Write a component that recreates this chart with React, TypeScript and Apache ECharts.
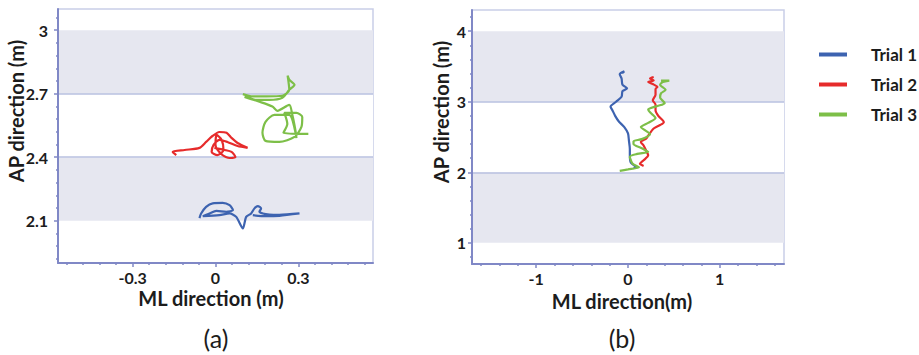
import React, { useEffect, useRef } from "react";
import * as echarts from "echarts";

// ---------- data ----------
const trialNames = ["Trial 1", "Trial 2", "Trial 3"];
const trialColors = ["#3d63b0", "#e62b2b", "#7dbf48"];

// Panel (a): close-up, ML (x) vs AP (y) in metres
const trial1A: [number, number][] = [
  [-0.058, 2.112], [-0.052, 2.134], [-0.034, 2.165], [-0.01, 2.182], [0.026, 2.184],
  [0.051, 2.173], [0.063, 2.15], [0.039, 2.142], [0.003, 2.146], [-0.022, 2.134],
  [-0.046, 2.121], [0.014, 2.126], [0.051, 2.134], [0.075, 2.118], [0.099, 2.063],
  [0.111, 2.118], [0.129, 2.134], [0.141, 2.158], [0.153, 2.169], [0.165, 2.158],
  [0.159, 2.142], [0.171, 2.134], [0.195, 2.129], [0.231, 2.128], [0.304, 2.134],
  [0.231, 2.123], [0.183, 2.121], [0.135, 2.126],
];
const trial2A: [number, number][] = [
  [-0.142, 2.41], [-0.155, 2.425], [-0.112, 2.434], [-0.058, 2.444], [-0.034, 2.472],
  [-0.011, 2.5], [0.014, 2.519], [0.04, 2.515], [0.058, 2.491], [0.08, 2.467],
  [0.116, 2.444], [0.08, 2.453], [0.043, 2.472], [0.014, 2.482], [-0.007, 2.458],
  [-0.014, 2.425], [0.007, 2.41], [0.029, 2.434], [0.022, 2.482], [0.004, 2.505],
  [0.0, 2.458], [0.025, 2.41], [0.051, 2.396], [0.072, 2.401], [0.058, 2.425],
  [0.033, 2.434], [-0.004, 2.444],
];
const trial3A: [number, number][] = [
  [0.099, 2.698], [0.134, 2.687], [0.184, 2.687], [0.242, 2.69], [0.267, 2.718],
  [0.261, 2.785], [0.267, 2.766], [0.286, 2.742], [0.267, 2.718], [0.242, 2.681],
  [0.195, 2.671], [0.148, 2.671], [0.105, 2.685], [0.159, 2.662], [0.206, 2.639],
  [0.224, 2.619], [0.267, 2.647], [0.278, 2.6], [0.289, 2.529], [0.293, 2.49],
  [0.267, 2.6], [0.213, 2.6], [0.181, 2.567], [0.17, 2.515], [0.181, 2.477],
  [0.231, 2.472], [0.286, 2.496], [0.311, 2.543], [0.314, 2.59], [0.293, 2.609],
  [0.249, 2.609], [0.26, 2.557], [0.246, 2.515], [0.304, 2.51], [0.336, 2.51],
];

// Panel (b): whole walk
const trial1B: [number, number][] = [
  [0.06, 2.06], [0.09, 2.07], [0.03, 2.14], [0.02, 2.25], [0.02, 2.33], [0.01, 2.45],
  [0.0, 2.55], [-0.04, 2.64], [-0.1, 2.72], [-0.14, 2.8], [-0.17, 2.88], [-0.19, 2.93],
  [-0.13, 3.0], [-0.07, 3.07], [-0.06, 3.15], [-0.01, 3.19], [-0.06, 3.24], [-0.07, 3.33],
  [-0.09, 3.39], [-0.04, 3.43], [-0.06, 3.41],
];
const trial2B: [number, number][] = [
  [0.17, 2.09], [0.13, 2.12], [0.17, 2.17], [0.22, 2.24], [0.2, 2.3], [0.17, 2.38],
  [0.14, 2.43], [0.2, 2.48], [0.22, 2.52], [0.28, 2.62], [0.35, 2.67], [0.39, 2.71],
  [0.33, 2.8], [0.3, 2.88], [0.3, 2.96], [0.27, 3.02], [0.3, 3.1], [0.3, 3.18],
  [0.32, 3.21], [0.27, 3.25], [0.22, 3.28], [0.28, 3.3], [0.24, 3.33], [0.28, 3.35],
];
const trial3B: [number, number][] = [
  [-0.09, 2.02], [0.0, 2.04], [0.12, 2.07], [0.05, 2.12], [0.02, 2.22], [0.1, 2.26],
  [0.22, 2.29], [0.15, 2.34], [0.06, 2.4], [0.06, 2.44], [0.15, 2.47], [0.24, 2.54],
  [0.18, 2.6], [0.14, 2.64], [0.22, 2.7], [0.3, 2.77], [0.24, 2.85], [0.22, 2.89],
  [0.32, 2.94], [0.4, 2.98], [0.35, 3.06], [0.36, 3.12], [0.41, 3.17], [0.35, 3.24],
  [0.38, 3.28], [0.45, 3.3], [0.36, 3.3],
];

// axis ranges and tick labels
const xRangeA = [-0.57, 0.57];
const yRangeA = [1.9, 3.1];
const xTicksA = [-0.3, 0, 0.3];
const yTicksA = [2.1, 2.4, 2.7, 3];
const xMinorA = [-0.54, -0.48, -0.42, -0.36, -0.24, -0.18, -0.12, -0.06, 0.06, 0.12, 0.18, 0.24, 0.36, 0.42, 0.48, 0.54];
const yMinorA = [1.92, 1.98, 2.04, 2.16, 2.22, 2.28, 2.34, 2.46, 2.52, 2.58, 2.64, 2.76, 2.82, 2.88, 2.94, 3.06];

const xRangeB = [-1.7, 1.7];
const yRangeB = [0.7, 4.3];
const xTicksB = [-1, 0, 1];
const yTicksB = [1, 2, 3, 4];
const xMinorB = [-1.6, -1.4, -1.2, -0.8, -0.6, -0.4, -0.2, 0.2, 0.4, 0.6, 0.8, 1.2, 1.4, 1.6];
const yMinorB = [0.8, 1.2, 1.4, 1.6, 1.8, 2.2, 2.4, 2.6, 2.8, 3.2, 3.4, 3.6, 3.8, 4.2];

const FONT = "Lato, 'Open Sans', sans-serif";
const AXIS_COLOR = "#8088c6";
const GRID_LINE = "#b9c0e0";
const BAND = "#e6e7f0";
const TEXT = "#1c1c1c";

export default function App() {
  const ref = useRef<HTMLDivElement>(null);

  useEffect(() => {
    if (!ref.current) return;
    const chart = echarts.init(ref.current, undefined, { renderer: "svg" });

    const labelStyle = { color: TEXT, fontFamily: FONT, fontWeight: "bold", fontSize: 16 };

    const mainX = (gi: number, range: number[], ticks: number[], split: number) => ({
      type: "value",
      gridIndex: gi,
      min: range[0],
      max: range[1],
      splitNumber: split,
      axisLine: { show: true, onZero: false, lineStyle: { color: AXIS_COLOR, width: 2 } },
      axisTick: { show: true, customValues: ticks, length: 4, lineStyle: { color: AXIS_COLOR, width: 1.5 } },
      axisLabel: { customValues: ticks, margin: 6, ...labelStyle },
      splitLine: { show: false },
    });
    const minorX = (gi: number, range: number[], vals: number[]) => ({
      type: "value",
      gridIndex: gi,
      min: range[0],
      max: range[1],
      position: "bottom",
      axisLine: { show: false, onZero: false },
      axisTick: { show: true, customValues: vals, length: 2, lineStyle: { color: AXIS_COLOR, width: 1.5 } },
      axisLabel: { show: false },
      splitLine: { show: false },
    });
    const mainY = (gi: number, range: number[], ticks: number[], split: number, margin: number) => ({
      type: "value",
      gridIndex: gi,
      min: range[0],
      max: range[1],
      splitNumber: split,
      position: "left",
      axisLine: { show: true, onZero: false, lineStyle: { color: AXIS_COLOR, width: 2 } },
      axisTick: { show: true, customValues: ticks, length: 4, lineStyle: { color: AXIS_COLOR, width: 1.5 } },
      axisLabel: { customValues: ticks, margin, ...labelStyle },
      splitLine: { show: true, showMinLine: false, showMaxLine: false, lineStyle: { color: GRID_LINE, width: 1.5 } },
      splitArea: { show: true, areaStyle: { color: [BAND, "#ffffff"] } },
      z: 1,
    });
    const minorY = (gi: number, range: number[], vals: number[]) => ({
      type: "value",
      gridIndex: gi,
      min: range[0],
      max: range[1],
      position: "left",
      offset: 0,
      axisLine: { show: false, onZero: false },
      axisTick: { show: true, customValues: vals, length: 2, lineStyle: { color: AXIS_COLOR, width: 1.5 } },
      axisLabel: { show: false },
      splitLine: { show: false },
    });

    const trialsA = [trial1A, trial2A, trial3A];
    const trialsB = [trial1B, trial2B, trial3B];
    const series: any[] = [];
    const addSeries = (d: [number, number][], i: number, axisIdx: number) =>
      series.push({
        type: "line",
        name: trialNames[i],
        xAxisIndex: axisIdx,
        yAxisIndex: axisIdx,
        data: d,
        showSymbol: false,
        smooth: 0.25,
        lineStyle: { color: trialColors[i], width: 2.2 },
        itemStyle: { color: trialColors[i] },
        z: 5,
      });
    trialsA.forEach((d, i) => addSeries(d, i, 0));
    trialsB.forEach((d, i) => addSeries(d, i, 2));

    const titleStyle = { fill: TEXT, fontFamily: FONT, fontWeight: "bold", fontSize: 20 };
    const panelStyle = { fill: TEXT, fontFamily: FONT, fontWeight: "normal", fontSize: 25 };

    chart.setOption({
      animation: false,
      backgroundColor: "#ffffff",
      grid: [
        { left: 58, top: 9, width: 315, height: 254, show: true, borderColor: "#c9cee7", borderWidth: 1.5, containLabel: false },
        { left: 472, top: 10, width: 312, height: 254, show: true, borderColor: "#c9cee7", borderWidth: 1.5, containLabel: false },
      ],
      xAxis: [
        mainX(0, xRangeA, xTicksA, 4),
        minorX(0, xRangeA, xMinorA),
        mainX(1, xRangeB, xTicksB, 3),
        minorX(1, xRangeB, xMinorB),
      ],
      yAxis: [
        mainY(0, yRangeA, yTicksA, 4, 10),
        minorY(0, yRangeA, yMinorA),
        mainY(1, yRangeB, yTicksB, 3, 6),
        minorY(1, yRangeB, yMinorB),
      ],
      legend: {
        data: trialNames,
        orient: "vertical",
        left: 814,
        top: 41,
        icon: "rect",
        itemWidth: 28,
        itemHeight: 4,
        itemGap: 13,
        formatter: (name: string) => `{g|}{n|${name}}`,
        textStyle: {
          color: TEXT,
          fontFamily: FONT,
          fontWeight: "bold",
          fontSize: 17,
          rich: {
            g: { width: 19 },
            n: { color: TEXT, fontFamily: FONT, fontWeight: "bold", fontSize: 17 },
          },
        },
      },
      graphic: [
        { type: "text", x: 16, y: 111, rotation: Math.PI / 2, style: { ...titleStyle, text: "AP direction (m)", align: "center", verticalAlign: "middle" } },
        { type: "text", x: 211, y: 298, style: { ...titleStyle, text: "ML direction (m)", align: "center", verticalAlign: "middle" } },
        { type: "text", x: 216, y: 338, style: { ...panelStyle, text: "(a)", align: "center", verticalAlign: "middle" } },
        { type: "text", x: 441, y: 112, rotation: Math.PI / 2, style: { ...titleStyle, text: "AP direction (m)", align: "center", verticalAlign: "middle" } },
        { type: "text", x: 622, y: 301, style: { ...titleStyle, text: "ML direction(m)", align: "center", verticalAlign: "middle" } },
        { type: "text", x: 622, y: 338, style: { ...panelStyle, text: "(b)", align: "center", verticalAlign: "middle" } },
      ],
      series,
    });

    return () => chart.dispose();
  }, []);

  return <div ref={ref} style={{ position: "absolute", left: 0, top: 0, width: 919, height: 355 }} />;
}
